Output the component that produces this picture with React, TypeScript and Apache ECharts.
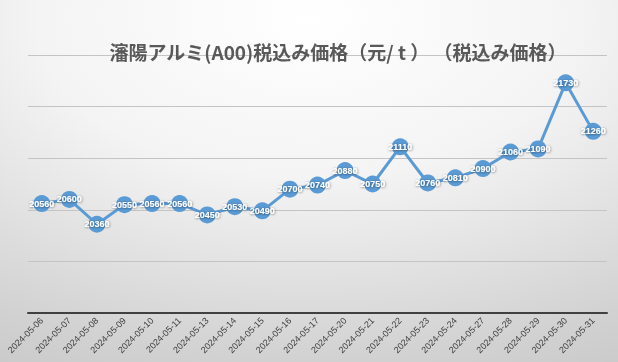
import React, { useEffect, useRef } from "react";
import * as echarts from "echarts";

const categories = [
  "2024-05-06", "2024-05-07", "2024-05-08", "2024-05-09", "2024-05-10", "2024-05-11",
  "2024-05-13", "2024-05-14", "2024-05-15", "2024-05-16", "2024-05-17", "2024-05-20",
  "2024-05-21", "2024-05-22", "2024-05-23", "2024-05-24", "2024-05-27", "2024-05-28",
  "2024-05-29", "2024-05-30", "2024-05-31",
];
const prices = [
  20560, 20600, 20360, 20550, 20560, 20560, 20450, 20530, 20490, 20700, 20740, 20880,
  20750, 21110, 20760, 20810, 20900, 21060, 21090, 21730, 21260,
];
const titleText = "瀋陽アルミ(A00)税込み価格（元/ t ） （税込み価格）";

export default function App() {
  const ref = useRef<HTMLDivElement>(null);
  useEffect(() => {
    document.body.style.margin = "0";
    const chart = echarts.init(ref.current!, null, { renderer: "svg" });
    chart.setOption({
      animation: false,
      backgroundColor: new echarts.graphic.RadialGradient(0.5, 0.05, 1.25, [
        { offset: 0, color: "#ffffff" },
        { offset: 0.35, color: "#f4f4f4" },
        { offset: 0.75, color: "#d2d2d2" },
        { offset: 1, color: "#c2c2c2" },
      ]),
      title: {
        text: titleText,
        left: 333,
        textAlign: "center",
        top: 37,
        textStyle: {
          fontFamily: "Noto Sans CJK JP",
          fontSize: 19,
          fontWeight: "bold",
          color: "#595959",
        },
      },
      grid: { left: 28, right: 11, top: 55, bottom: 49, containLabel: false },
      xAxis: {
        type: "category",
        data: categories,
        boundaryGap: true,
        axisLine: { lineStyle: { color: "#404040", width: 2 } },
        axisTick: { show: false },
        axisLabel: {
          rotate: 45,
          interval: 0,
          fontSize: 9,
          color: "#404040",
          fontFamily: "Liberation Sans",
          margin: 6,
        },
      },
      yAxis: {
        type: "value",
        min: 19500,
        max: 22000,
        interval: 500,
        axisLabel: { show: false },
        axisLine: { show: false },
        axisTick: { show: false },
        splitLine: { lineStyle: { color: "#c4c4c4", width: 1 } },
      },
      series: [
        {
          type: "line",
          data: prices,
          symbol: "circle",
          symbolSize: 17,
          lineStyle: { color: "#5b9bd5", width: 3 },
          itemStyle: { color: "#5b9bd5" },
          label: {
            show: true,
            position: "inside",
            color: "#ffffff",
            fontSize: 9,
            fontWeight: "bold",
            fontFamily: "Liberation Sans",
            textShadowColor: "rgba(0,0,0,0.55)",
            textShadowBlur: 2,
            textShadowOffsetX: 0.5,
            textShadowOffsetY: 0.5,
          },
        },
      ],
    });
    return () => chart.dispose();
  }, []);
  return (
    <div
      ref={ref}
      style={{ position: "fixed", left: 0, top: 0, width: 618, height: 362 }}
    />
  );
}
